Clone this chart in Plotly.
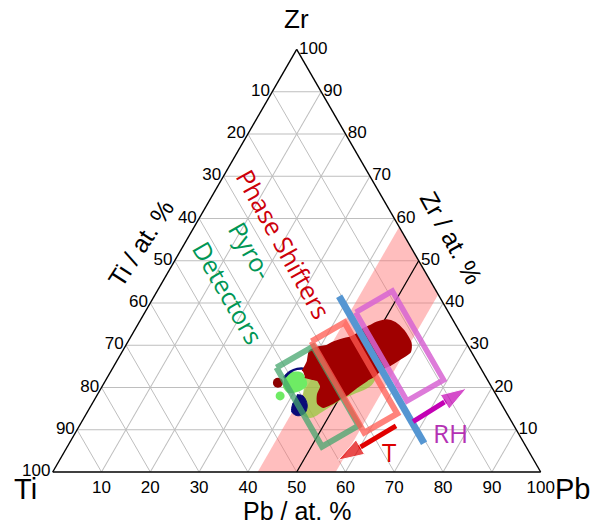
import plotly.graph_objects as go

# ---------------- data (at. %: Zr, Ti, Pb) ----------------
tick_positions = [0, 10, 20, 30, 40, 50, 60, 70, 80, 90]
tick_labels = ["100", "90", "80", "70", "60", "50", "40", "30", "20", "10"]

band_zr = [0, 58, 42, 0]
band_ti = [58, 0, 0, 42]
band_pb = [42, 42, 58, 58]

stoich_zr = [0, 50]
stoich_ti = [50, 0]
stoich_pb = [50, 50]

olive_zr = [22.3, 23.0, 20.6, 17.5, 14.7, 12.8, 14.2, 18.3]
olive_ti = [37.2, 22.5, 24.3, 31.4, 36.8, 40.9, 42.2, 39.6]
olive_pb = [40.6, 54.6, 55.1, 51.1, 48.5, 46.3, 43.6, 42.2]

lgreen_zr = [23.0, 23.7, 23.5, 20.6, 19.0, 18.7, 20.1]
lgreen_ti = [40.9, 39.1, 37.2, 37.6, 40.3, 42.4, 42.8]
lgreen_pb = [36.1, 37.2, 39.4, 41.8, 40.8, 38.9, 37.1]

navy_zr = [18.3, 18.0, 15.9, 14.0, 13.3, 14.2, 16.4]
navy_ti = [40.8, 39.7, 39.9, 41.3, 43.1, 43.9, 42.6]
navy_pb = [40.9, 42.3, 44.2, 44.7, 43.6, 41.9, 41.1]

navy_arc_zr = [22.3, 23.7, 24.4, 24.4, 23.9]
navy_arc_ti = [41.5, 39.5, 37.7, 36.1, 35.5]
navy_arc_pb = [36.3, 36.8, 37.9, 39.5, 40.6]

blob_zr = [23.8, 26.1, 28.5, 29.3, 29.7, 30.5, 31.3, 31.7, 32.5, 33.7, 34.4, 35.2,
           35.8, 35.2, 33.3, 30.5, 28.5, 26.9, 25.4, 24.6, 23.0, 21.8, 20.2, 18.6,
           17.5, 16.3, 15.5, 16.3, 18.3, 20.2, 21.8, 22.2, 22.6]
blob_ti = [36.8, 34.6, 33.0, 31.2, 29.0, 27.3, 24.8, 23.2, 21.4, 19.5, 17.8, 16.0,
           13.7, 12.3, 11.5, 11.5, 12.6, 15.4, 18.2, 20.3, 22.5, 24.8, 27.6, 30.2,
           32.4, 34.7, 36.8, 37.4, 36.4, 34.8, 34.7, 35.8, 37.0]
blob_pb = [39.4, 39.3, 38.5, 39.5, 41.3, 42.2, 43.9, 45.1, 46.1, 46.8, 47.8, 48.8,
           50.5, 52.5, 55.2, 58.0, 58.9, 57.7, 56.4, 55.1, 54.5, 53.4, 52.2, 51.2,
           50.1, 49.0, 47.7, 46.3, 45.3, 45.0, 43.5, 42.0, 40.4]

dot_red = (21.1, 43.3, 35.6)
dot_green = (18.0, 44.4, 37.6)

green_rect_zr = [24.7, 29.7, 11.0, 6.0, 24.7]
green_rect_ti = [41.8, 31.8, 31.8, 41.8, 41.8]
green_rect_pb = [33.5, 38.5, 57.2, 52.2, 33.5]

red_rect_zr = [30.9, 35.4, 13.8, 9.3, 30.9]
red_rect_ti = [31.5, 22.5, 22.5, 31.5, 31.5]
red_rect_pb = [37.6, 42.1, 63.7, 59.2, 37.6]

mag_rect_zr = [37.8, 42.8, 21.8, 16.8, 37.8]
mag_rect_ti = [19.0, 9.0, 9.0, 19.0, 19.0]
mag_rect_pb = [43.2, 48.2, 69.2, 64.2, 43.2]

blue_zr = [41.6, 6.8]
blue_ti = [20.5, 20.5]
blue_pb = [37.9, 72.7]

t_arrow_zr = [10.9, 2.8]
t_arrow_ti = [24.2, 40.1]
t_arrow_pb = [64.9, 57.1]

rh_arrow_zr = [11.9, 19.8]
rh_arrow_ti = [20.2, 5.3]
rh_arrow_pb = [67.9, 74.9]

W, H = 590, 524
fig = go.Figure()


def tern(zr, ti, pb, **kw):
    fig.add_trace(go.Scatterternary(a=zr, b=ti, c=pb, hoverinfo="skip",
                                    showlegend=False, **kw))


tern(band_zr, band_ti, band_pb, mode="lines", fill="toself",
     fillcolor="rgba(255,110,110,0.45)", line=dict(width=0))
tern(stoich_zr, stoich_ti, stoich_pb, mode="lines", line=dict(color="black", width=1.2))
tern(olive_zr, olive_ti, olive_pb, mode="lines", fill="toself",
     fillcolor="rgba(150,200,60,0.75)", line=dict(width=0, shape="spline"))
tern(lgreen_zr, lgreen_ti, lgreen_pb, mode="lines", fill="toself",
     fillcolor="rgb(110,235,100)", line=dict(width=0, shape="spline"))
tern(navy_zr, navy_ti, navy_pb, mode="lines", fill="toself",
     fillcolor="rgb(10,10,120)", line=dict(color="rgb(10,10,120)", width=1, shape="spline"))
tern(navy_arc_zr, navy_arc_ti, navy_arc_pb, mode="lines",
     line=dict(color="rgb(10,10,120)", width=2.5, shape="spline"))
tern(blob_zr, blob_ti, blob_pb, mode="lines", fill="toself",
     fillcolor="rgb(160,0,0)",
     line=dict(color="rgb(160,0,0)", width=3, shape="spline", smoothing=0.6))
tern([dot_red[0]], [dot_red[1]], [dot_red[2]], mode="markers",
     marker=dict(color="rgb(140,0,0)", size=10))
tern([dot_green[0]], [dot_green[1]], [dot_green[2]], mode="markers",
     marker=dict(color="rgb(110,235,100)", size=9))
tern(green_rect_zr, green_rect_ti, green_rect_pb, mode="lines",
     line=dict(color="rgba(70,165,110,0.75)", width=6))
tern(red_rect_zr, red_rect_ti, red_rect_pb, mode="lines",
     line=dict(color="rgba(255,90,80,0.75)", width=6))
tern(mag_rect_zr, mag_rect_ti, mag_rect_pb, mode="lines",
     line=dict(color="rgba(215,100,210,0.85)", width=5.5))
tern(blue_zr, blue_ti, blue_pb, mode="lines",
     line=dict(color="rgb(85,150,210)", width=7))
tern(t_arrow_zr, t_arrow_ti, t_arrow_pb, mode="lines+markers",
     line=dict(color="rgb(225,0,0)", width=5),
     marker=dict(symbol="arrow", size=[0, 27], angleref="previous", color="rgb(225,0,0)"))
tern(rh_arrow_zr, rh_arrow_ti, rh_arrow_pb, mode="lines+markers",
     line=dict(color="rgb(195,0,180)", width=5),
     marker=dict(symbol="arrow", size=[0, 27], angleref="previous", color="rgb(195,0,180)"))

axis_common = dict(
    title=dict(text=""),
    tickmode="array", tickvals=tick_positions, ticktext=tick_labels,
    ticks="",
    showline=True, linecolor="black", linewidth=1.4,
    showgrid=True, gridcolor="rgb(190,190,190)", gridwidth=1,
    tickfont=dict(family="Liberation Sans, Arial", size=17, color="black"),
)

fig.update_layout(
    width=W, height=H,
    margin=dict(l=0, r=0, t=0, b=0),
    paper_bgcolor="white",
    ternary=dict(
        sum=100,
        bgcolor="white",
        domain=dict(x=[52.7 / W, 540.7 / W], y=[(H - 472) / H, (H - 49.4) / H]),
        aaxis=axis_common,
        baxis=axis_common,
        caxis=axis_common,
    ),
)

ann_font = "Liberation Sans, Arial"
label_font = "Open Sans"


def ann(text, px, py, size, color, angle=0, family=ann_font):
    fig.add_annotation(text=text, x=px / W, y=1 - py / H, xref="paper", yref="paper",
                       showarrow=False, textangle=angle, xanchor="center", yanchor="middle",
                       font=dict(family=family, size=size, color=color))


ann("Zr", 297, 19, 26, "black")
ann("Ti", 25, 489, 29, "black")
ann("Pb", 572, 489, 29, "black")
ann("Ti / at. %", 141, 243, 25, "black", -57)
ann("Zr / at. %", 451, 237, 25, "black", 61)
ann("Pb / at. %", 297, 511, 25, "black", 0)
ann("Phase Shifters", 284, 244, 25, "rgb(205,0,10)", 61, label_font)
ann("Pyro-", 251, 250, 25, "rgb(0,150,85)", 60, label_font)
ann("Detectors", 228, 292, 25, "rgb(0,150,85)", 60, label_font)
ann("RH", 450, 433, 26, "rgb(180,50,180)", 0, label_font)
ann("T", 389, 452, 26, "rgb(220,0,0)", 0, label_font)

fig.write_html("out.html")
